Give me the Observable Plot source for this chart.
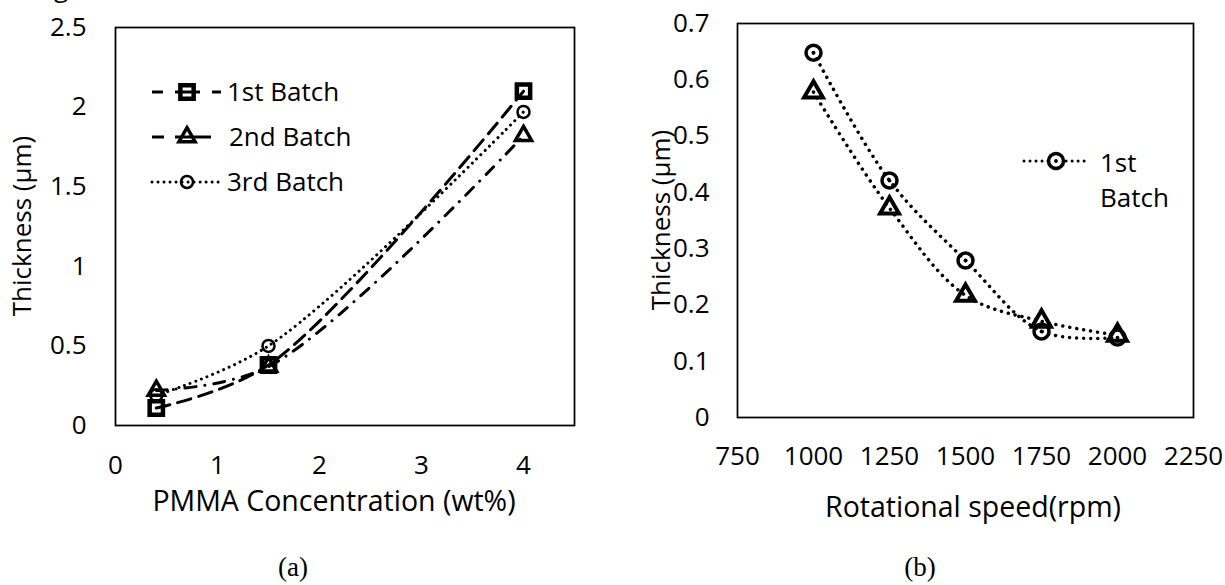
<!DOCTYPE html>
<html><head><meta charset="utf-8">
<script src="https://cdn.jsdelivr.net/npm/d3@7"></script>
<script src="https://cdn.jsdelivr.net/npm/@observablehq/plot@0.6"></script>
<style>
body{margin:0;background:#fff;}
#wrap{position:relative;width:1225px;height:585px;overflow:hidden;background:#fff;}
</style></head><body><div id="wrap"></div>
<script>
// ---- data (a) ----
const concA   = [0.4, 1.5, 4];
const batch1A = [0.11, 0.38, 2.10];
const batch2A = [0.22, 0.37, 1.82];
const batch3A = [0.19, 0.50, 1.97];
const xTicksA = [0, 1, 2, 3, 4];
const yTicksA = [0, 0.5, 1, 1.5, 2, 2.5];
// ---- data (b) ----
const speedB  = [1000, 1250, 1500, 1750, 2000];
const batch1B = [0.648, 0.421, 0.279, 0.153, 0.142];
const batch2B = [0.578, 0.372, 0.217, 0.171, 0.146];
const xTicksB = [750, 1000, 1250, 1500, 1750, 2000, 2250];
const yTicksB = [0, 0.1, 0.2, 0.3, 0.4, 0.5, 0.6, 0.7];
// ---- labels ----
const seriesNamesA = ["1st Batch", "2nd Batch", "3rd Batch"];
const seriesNamesB = ["1st", "Batch"];
const xTitleA = "PMMA Concentration (wt%)";
const xTitleB = "Rotational speed(rpm)";
const yTitle = "Thickness (\u03bcm)";
const captions = ["(a)", "(b)"];

const FONT = "'Open Sans', sans-serif";
const wrap = document.getElementById("wrap");
const tbl = (xs, ys) => xs.map((x, i) => ({x, y: ys[i]}));
const A1 = tbl(concA, batch1A), A2 = tbl(concA, batch2A), A3 = tbl(concA, batch3A);
const B1 = tbl(speedB, batch1B), B2 = tbl(speedB, batch2B);
const fmt = d => String(d);

const plotA = Plot.plot({
  width: 612, height: 540,
  marginLeft: 115, marginRight: 38, marginTop: 27, marginBottom: 115,
  style: {fontFamily: FONT, fontSize: "26px", color: "black", background: "transparent", overflow: "visible"},
  x: {domain: [0, 4.5], ticks: xTicksA, tickSize: 0, tickPadding: 30, label: null, tickFormat: fmt},
  y: {domain: [0, 2.5], ticks: yTicksA, tickSize: 0, tickPadding: 29, label: null, tickFormat: fmt},
  marks: [
    Plot.frame({stroke: "black", strokeWidth: 1.75}),
    Plot.line(A1, {x: "x", y: "y", curve: "catmull-rom", stroke: "black", strokeWidth: 3, strokeDasharray: "14,8"}),
    Plot.dot(A1, {x: "x", y: "y", symbol: "square", r: 7.5, stroke: "black", strokeWidth: 4.5, fill: "none"}),
    Plot.line(A2, {x: "x", y: "y", curve: "catmull-rom", stroke: "black", strokeWidth: 3, strokeDasharray: "11,9,0.01,9", strokeLinecap: "round"}),
    Plot.dot(A2, {x: "x", y: "y", symbol: "triangle", r: 6, stroke: "black", strokeWidth: 3.5, fill: "none"}),
    Plot.line(A3, {x: "x", y: "y", curve: "catmull-rom", stroke: "black", strokeWidth: 3, strokeDasharray: "0.01,6", strokeLinecap: "round"}),
    Plot.dot(A3, {x: "x", y: "y", symbol: "circle", r: 6, stroke: "black", strokeWidth: 2.5, fill: "none"})
  ]
});
plotA.style.position = "absolute"; plotA.style.left = "0px"; plotA.style.top = "0px";
wrap.appendChild(plotA);

const plotB = Plot.plot({
  width: 613, height: 540,
  marginLeft: 125, marginRight: 32, marginTop: 23, marginBottom: 123,
  style: {fontFamily: FONT, fontSize: "26px", color: "black", background: "transparent", overflow: "visible"},
  x: {domain: [750, 2250], ticks: xTicksB, tickSize: 0, tickPadding: 29, label: null, tickFormat: fmt},
  y: {domain: [0, 0.7], ticks: yTicksB, tickSize: 0, tickPadding: 28, label: null, tickFormat: fmt},
  marks: [
    Plot.frame({stroke: "black", strokeWidth: 1.75}),
    Plot.line(B1, {x: "x", y: "y", curve: "catmull-rom", stroke: "black", strokeWidth: 3.5, strokeDasharray: "0.01,7", strokeLinecap: "round"}),
    Plot.line(B2, {x: "x", y: "y", curve: "catmull-rom", stroke: "black", strokeWidth: 3.5, strokeDasharray: "0.01,7", strokeLinecap: "round"}),
    Plot.dot(B1, {x: "x", y: "y", symbol: "circle", r: 7.5, stroke: "black", strokeWidth: 3.5, fill: "none"}),
    Plot.dot(B1, {x: "x", y: "y", symbol: "circle", r: 1.9, fill: "black"}),
    Plot.dot(B2, {x: "x", y: "y", symbol: "triangle", r: 7, stroke: "black", strokeWidth: 4, fill: "none"})
  ]
});
plotB.style.position = "absolute"; plotB.style.left = "612px"; plotB.style.top = "0px";
wrap.appendChild(plotB);

// ---- overlay: titles, legends, captions ----
const ov = d3.select(wrap).append("svg")
  .attr("width", 1225).attr("height", 585)
  .style("position", "absolute").style("left", "0px").style("top", "0px")
  .style("pointer-events", "none")
  .style("font-family", FONT).style("font-size", "26px");

function txt(x, y, s, anchor = "middle", rot = 0, extra = {}) {
  const t = ov.append("text").attr("text-anchor", anchor).attr("dy", "0.36em")
    .attr("transform", `translate(${x},${y})` + (rot ? ` rotate(${rot})` : "")).text(s);
  for (const k in extra) t.style(k, extra[k]);
  return t;
}
// cut-off glyph at the top edge (present in the source image)
ov.append("text").attr("x", 54).attr("y", -3).text("g");

txt(22, 226, yTitle, "middle", -90);
txt(661, 220, yTitle, "middle", -90);
txt(334, 501, xTitleA, "middle", 0, {"font-size": "28.5px"});
txt(973, 507, xTitleB, "middle", 0, {"font-size": "28.5px"});
txt(293, 566, captions[0], "middle", 0, {"font-family": "'Liberation Serif', serif", "font-size": "27px"});
txt(920, 566, captions[1], "middle", 0, {"font-family": "'Liberation Serif', serif", "font-size": "27px"});

const sym = (type, r) => d3.symbol(type, Math.PI * r * r)();
// legend (a)
const legA = [
  {y: 92, dash: "11,12,25,12,11", cap: "butt", sym: d3.symbolSquare, r: 7.5, sw: 4.5, tx: 227},
  {y: 137, dash: "12,11,36", cap: "butt", sym: d3.symbolTriangle, r: 6, sw: 3.5, tx: 229},
  {y: 182, dash: "0.01,6", cap: "round", sym: d3.symbolCircle, r: 6, sw: 2.5, tx: 227}
];
legA.forEach((d, i) => {
  ov.append("line").attr("x1", 152).attr("x2", 221).attr("y1", d.y).attr("y2", d.y)
    .attr("stroke", "black").attr("stroke-width", 3).attr("stroke-dasharray", d.dash).attr("stroke-linecap", d.cap);
  ov.append("path").attr("d", sym(d.sym, d.r)).attr("transform", `translate(187,${d.y})`)
    .attr("fill", "none").attr("stroke", "black").attr("stroke-width", d.sw);
  txt(d.tx, d.y, seriesNamesA[i], "start");
});
// legend (b)
ov.append("line").attr("x1", 1024).attr("x2", 1090).attr("y1", 161).attr("y2", 161)
  .attr("stroke", "black").attr("stroke-width", 3).attr("stroke-dasharray", "0.01,6").attr("stroke-linecap", "round");
ov.append("circle").attr("cx", 1056).attr("cy", 161).attr("r", 7.5).attr("fill", "white").attr("stroke", "black").attr("stroke-width", 3.5);
ov.append("circle").attr("cx", 1056).attr("cy", 161).attr("r", 1.9).attr("fill", "black");
txt(1100, 163, seriesNamesB[0], "start");
txt(1100, 198, seriesNamesB[1], "start");
</script></body></html>
